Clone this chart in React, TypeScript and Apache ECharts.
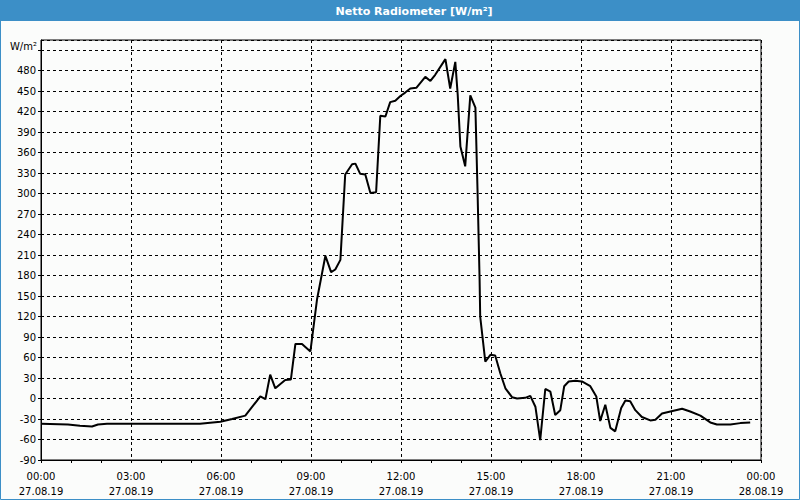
import React, { useEffect, useRef } from "react";
import * as echarts from "echarts";

const TITLE = "Netto Radiometer [W/m²]";
const UNIT = "W/m²";
const DATE1 = "27.08.19";
const DATE2 = "28.08.19";

// hours since 00:00 27.08.19
const hours = [
  0, 0.9, 1.3, 1.7, 1.9, 2.2, 5.3, 5.98, 6.37, 6.81, 7.31, 7.48, 7.64, 7.81,
  8.14, 8.33, 8.48, 8.7, 8.98, 9.2, 9.48, 9.67, 9.81, 9.98, 10.14, 10.37,
  10.48, 10.64, 10.81, 10.98, 11.17, 11.31, 11.48, 11.64, 11.81, 11.98, 12.14,
  12.31, 12.51, 12.64, 12.81, 12.98, 13.14, 13.48, 13.64, 13.81, 13.89, 13.98,
  14.14, 14.31, 14.48, 14.55, 14.62, 14.64, 14.81, 14.98, 15.14, 15.31, 15.48,
  15.7, 15.87, 16.14, 16.31, 16.48, 16.64, 16.81, 16.98, 17.14, 17.31, 17.44,
  17.59, 17.81, 18.03, 18.31, 18.51, 18.64, 18.81, 18.98, 19.14, 19.34, 19.48,
  19.64, 19.81, 20.03, 20.31, 20.48, 20.7, 20.98, 21.37, 21.64, 21.98, 22.31,
  22.53, 22.98, 23.31, 23.64,
];
const values = [
  -37, -38, -40, -41, -38, -37, -37, -34, -30, -25, 3, -1, 35, 15,
  27, 28, 80, 80, 69, 145, 209, 185, 189, 203, 328, 343,
  344, 329, 328, 301, 302, 414, 413, 434, 436, 443, 448,
  454, 455, 462, 471, 465, 474, 497, 454, 493, 445, 369,
  340, 444, 426, 306, 174, 120, 54, 64, 63, 37, 15,
  2, 0, 1, 4, -12, -61, 14, 10, -24, -17, 18,
  25, 26, 25, 18, 3, -33, -9, -43, -48, -14, -3,
  -4, -17, -27, -32, -31, -22, -19, -15, -19, -25, -35,
  -38, -38, -36, -35,
];

const Y_MIN = -90;
const Y_MAX = 525;
const Y_STEP = 30;
const Y_LABEL_MAX = 480;
const X_MIN = 0;
const X_MAX = 24;
const X_STEP = 3;

const BLUE = "#3c8fc7";
const FONT = "'DejaVu Sans', Verdana, sans-serif";

export default function App() {
  const ref = useRef<HTMLDivElement>(null);
  useEffect(() => {
    if (!ref.current) return;
    const chart = echarts.init(ref.current, null, { renderer: "svg" });
    const pad = (n: number) => (n < 10 ? "0" + n : "" + n);
    chart.setOption({
      animation: false,
      backgroundColor: "#fbfcfb",
      textStyle: { fontFamily: FONT },
      graphic: [
        {
          type: "rect",
          shape: { x: 0, y: 0, width: 800, height: 21 },
          style: { fill: BLUE },
          silent: true,
        },
        {
          type: "rect",
          shape: { x: 0.5, y: 0.5, width: 799, height: 499 },
          style: { fill: "none", stroke: BLUE, lineWidth: 1 },
          silent: true,
        },
        {
          type: "text",
          x: 414,
          y: 11,
          style: {
            text: TITLE,
            fill: "#ffffff",
            font: `bold 11px ${FONT}`,
            textAlign: "center",
            textVerticalAlign: "middle",
          },
        },
        {
          type: "text",
          x: 37,
          y: 46,
          style: {
            text: UNIT,
            fill: "#000",
            font: `10px ${FONT}`,
            textAlign: "right",
            textVerticalAlign: "middle",
          },
        },
      ],
      grid: {
        left: 41,
        top: 40,
        width: 720,
        height: 420,
        show: true,
        borderColor: "#000",
        borderWidth: 1,
        backgroundColor: "transparent",
      },
      xAxis: {
        type: "value",
        min: X_MIN,
        max: X_MAX,
        interval: X_STEP,
        axisLine: { show: true, onZero: false, lineStyle: { color: "#000", width: 1 } },
        axisTick: { show: true, length: 3, lineStyle: { color: "#000" } },
        minorTick: { show: true, splitNumber: 3, length: 3, lineStyle: { color: "#000" } },
        splitLine: {
          show: true,
          lineStyle: { color: "#000", type: [3, 3], width: 1 },
        },
        axisLabel: {
          color: "#000",
          fontSize: 10,
          fontFamily: FONT,
          lineHeight: 15,
          margin: 9,
          formatter: (v: number) => `${pad(v % 24)}:00\n${v < 24 ? DATE1 : DATE2}`,
        },
      },
      yAxis: {
        type: "value",
        min: Y_MIN,
        max: Y_MAX,
        interval: Y_STEP,
        axisLine: { show: true, onZero: false, lineStyle: { color: "#000", width: 1 } },
        axisTick: { show: true, length: 3, lineStyle: { color: "#000" } },
        splitLine: {
          show: true,
          lineStyle: { color: "#000", type: [3, 3], width: 1 },
        },
        axisLabel: {
          color: "#000",
          fontSize: 10,
          fontFamily: FONT,
          margin: 5,
          showMaxLabel: false,
          formatter: (v: number) => (v > Y_LABEL_MAX ? "" : String(v)),
        },
      },
      series: [
        {
          type: "line",
          data: hours.map((h, i) => [h, values[i]]),
          showSymbol: false,
          symbol: "none",
          lineStyle: { color: "#000", width: 2 },
        },
      ],
    });
    return () => chart.dispose();
  }, []);
  return (
    <div
      ref={ref}
      style={{ position: "fixed", left: 0, top: 0, width: 800, height: 500 }}
    />
  );
}
